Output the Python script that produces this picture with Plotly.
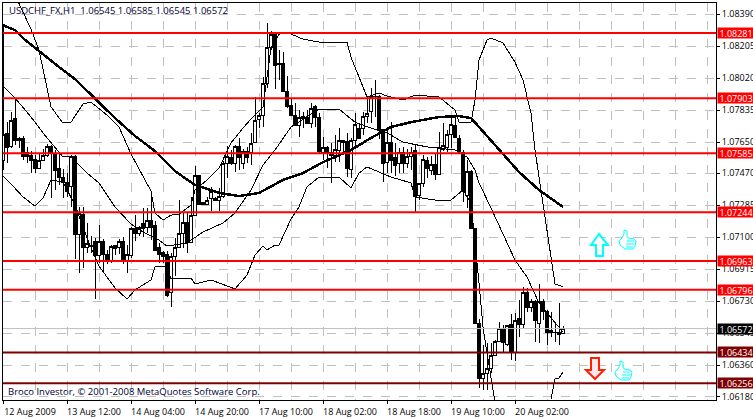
import plotly.graph_objects as go

# --- wykres swiecowy USDCHF H1, wartosci ---
bar_idx = list(range(141))

highs = [1.08326, 1.07765, 1.07824, 1.07905, 1.07680, 1.07685, 1.07622, 1.07598, 1.07575, 1.07587,
         1.07610, 1.07639, 1.07633, 1.07604, 1.07587, 1.07494, 1.07471, 1.07575, 1.07575, 1.07275,
         1.07275, 1.07182, 1.07107, 1.07096, 1.07170, 1.07090, 1.07026, 1.07055, 1.07055, 1.07090,
         1.07102, 1.07055, 1.07159, 1.07228, 1.07165, 1.07269, 1.07269, 1.07356, 1.07194, 1.07067,
         1.07020, 1.07020, 1.07009, 1.07096, 1.07315, 1.07246, 1.07246, 1.07333, 1.07511, 1.07459,
         1.07298, 1.07333, 1.07391, 1.07333, 1.07385, 1.07540, 1.07627, 1.07604, 1.07633, 1.07673,
         1.07610, 1.07622, 1.07703, 1.07911, 1.07818, 1.08026, 1.08338, 1.08291, 1.08285, 1.08182,
         1.08170, 1.08032, 1.07905, 1.07876, 1.07835, 1.07824, 1.07835, 1.07876, 1.07864, 1.07818,
         1.07679, 1.07627, 1.07645, 1.07691, 1.07731, 1.07662, 1.07703, 1.07673, 1.07818, 1.07760,
         1.07824, 1.07911, 1.07963, 1.08009, 1.07922, 1.07720, 1.07731, 1.07765, 1.07645, 1.07616,
         1.07622, 1.07610, 1.07622, 1.07633, 1.07414, 1.07575, 1.07564, 1.07569, 1.07587, 1.07708,
         1.07760, 1.07720, 1.07795, 1.07795, 1.07691, 1.07604, 1.07546, 1.07488, 1.07153, 1.06627,
         1.06477, 1.06489, 1.06489, 1.06506, 1.06610, 1.06593, 1.06593, 1.06656, 1.06662, 1.06737,
         1.06813, 1.06807, 1.06743, 1.06737, 1.06830, 1.06743, 1.06679, 1.06668, 1.06610, 1.06720,
         1.06585]

lows = [1.07488, 1.07529, 1.07616, 1.07633, 1.07616, 1.07546, 1.07529, 1.07471, 1.07471, 1.07494,
        1.07546, 1.07564, 1.07327, 1.07373, 1.07402, 1.07327, 1.07333, 1.07275, 1.06974, 1.06893,
        1.06922, 1.07009, 1.07009, 1.06743, 1.06951, 1.06893, 1.06945, 1.06951, 1.06997, 1.07003,
        1.06945, 1.06893, 1.06980, 1.07078, 1.07107, 1.07102, 1.07124, 1.07084, 1.07020, 1.06951,
        1.06951, 1.06754, 1.06696, 1.06876, 1.07038, 1.07038, 1.07009, 1.07067, 1.07228, 1.07286,
        1.07286, 1.07286, 1.07251, 1.07315, 1.07251, 1.07327, 1.07442, 1.07517, 1.07477, 1.07488,
        1.07494, 1.07529, 1.07517, 1.07645, 1.07731, 1.07737, 1.07963, 1.08182, 1.07957, 1.08009,
        1.07940, 1.07847, 1.07806, 1.07743, 1.07679, 1.07731, 1.07760, 1.07731, 1.07737, 1.07587,
        1.07546, 1.07500, 1.07414, 1.07534, 1.07534, 1.07592, 1.07448, 1.07442, 1.07616, 1.07668,
        1.07691, 1.07760, 1.07760, 1.07795, 1.07668, 1.07419, 1.07471, 1.07471, 1.07454, 1.07471,
        1.07471, 1.07500, 1.07488, 1.07246, 1.07315, 1.07391, 1.07442, 1.07459, 1.07431, 1.07459,
        1.07598, 1.07592, 1.07616, 1.07679, 1.07587, 1.07304, 1.07269, 1.07153, 1.06598, 1.06229,
        1.06217, 1.06217, 1.06315, 1.06413, 1.06494, 1.06431, 1.06471, 1.06390, 1.06384, 1.06523,
        1.06575, 1.06668, 1.06668, 1.06494, 1.06489, 1.06621, 1.06477, 1.06523, 1.06494, 1.06477,
        1.06545]

opens = [1.07546, 1.07697, 1.07622, 1.07789, 1.07668, 1.07668, 1.07587, 1.07575, 1.07552, 1.07500,
         1.07546, 1.07575, 1.07622, 1.07581, 1.07500, 1.07448, 1.07419, 1.07391, 1.07564, 1.07113,
         1.07234, 1.07043, 1.07055, 1.07078, 1.06997, 1.07078, 1.07003, 1.06968, 1.07055, 1.07038,
         1.07073, 1.06968, 1.06997, 1.07153, 1.07119, 1.07182, 1.07159, 1.07199, 1.07165, 1.07038,
         1.07009, 1.07003, 1.06778, 1.06986, 1.07043, 1.07119, 1.07188, 1.07067, 1.07228, 1.07459,
         1.07298, 1.07292, 1.07321, 1.07321, 1.07310, 1.07333, 1.07529, 1.07558, 1.07529, 1.07622,
         1.07529, 1.07598, 1.07587, 1.07645, 1.07783, 1.07806, 1.07986, 1.08194, 1.08274, 1.08107,
         1.08107, 1.07945, 1.07864, 1.07806, 1.07748, 1.07800, 1.07795, 1.07760, 1.07853, 1.07795,
         1.07592, 1.07616, 1.07587, 1.07575, 1.07604, 1.07662, 1.07656, 1.07494, 1.07662, 1.07731,
         1.07731, 1.07800, 1.07824, 1.07911, 1.07911, 1.07720, 1.07534, 1.07645, 1.07558, 1.07529,
         1.07592, 1.07529, 1.07564, 1.07604, 1.07344, 1.07408, 1.07546, 1.07488, 1.07523, 1.07465,
         1.07610, 1.07616, 1.07691, 1.07748, 1.07673, 1.07592, 1.07344, 1.07482, 1.07153, 1.06604,
         1.06281, 1.06315, 1.06344, 1.06419, 1.06500, 1.06570, 1.06477, 1.06593, 1.06431, 1.06633,
         1.06593, 1.06783, 1.06691, 1.06726, 1.06604, 1.06726, 1.06668, 1.06558, 1.06552, 1.06547,
         1.06545]

closes = [1.07691, 1.07616, 1.07777, 1.07662, 1.07662, 1.07564, 1.07564, 1.07546, 1.07500, 1.07546,
          1.07575, 1.07622, 1.07587, 1.07488, 1.07448, 1.07414, 1.07367, 1.07569, 1.07113, 1.07240,
          1.07043, 1.07061, 1.07049, 1.06997, 1.07078, 1.07003, 1.06962, 1.07049, 1.07032, 1.07073,
          1.06962, 1.07003, 1.07153, 1.07119, 1.07159, 1.07153, 1.07199, 1.07159, 1.07026, 1.07003,
          1.06991, 1.06766, 1.06991, 1.07043, 1.07119, 1.07188, 1.07067, 1.07228, 1.07459, 1.07292,
          1.07292, 1.07315, 1.07367, 1.07315, 1.07333, 1.07529, 1.07564, 1.07529, 1.07622, 1.07558,
          1.07598, 1.07558, 1.07639, 1.07777, 1.07806, 1.07986, 1.08194, 1.08274, 1.08095, 1.08101,
          1.07940, 1.07858, 1.07806, 1.07743, 1.07795, 1.07789, 1.07760, 1.07847, 1.07795, 1.07598,
          1.07616, 1.07587, 1.07575, 1.07610, 1.07662, 1.07650, 1.07500, 1.07662, 1.07754, 1.07668,
          1.07800, 1.07818, 1.07911, 1.07916, 1.07720, 1.07529, 1.07645, 1.07546, 1.07517, 1.07592,
          1.07529, 1.07569, 1.07592, 1.07333, 1.07408, 1.07552, 1.07500, 1.07523, 1.07465, 1.07616,
          1.07633, 1.07691, 1.07754, 1.07679, 1.07598, 1.07362, 1.07482, 1.07153, 1.06604, 1.06281,
          1.06315, 1.06344, 1.06419, 1.06500, 1.06570, 1.06489, 1.06587, 1.06431, 1.06621, 1.06593,
          1.06783, 1.06691, 1.06726, 1.06621, 1.06726, 1.06668, 1.06547, 1.06547, 1.06547, 1.06535,
          1.06572]

ma_idx = [0, 3, 5, 8, 14, 18, 22, 28, 33, 38, 43, 48, 54, 59, 64, 70, 75, 80, 87, 92, 97, 102, 109, 114,
          117, 122, 125, 129, 134, 140]
ma_val = [1.08326, 1.08297, 1.08251, 1.08194, 1.08084, 1.08014, 1.07922, 1.07789, 1.07685, 1.07598,
          1.07482, 1.07402, 1.07356, 1.07338, 1.07356, 1.07431, 1.07471, 1.07534, 1.07604, 1.07674,
          1.07737, 1.07765, 1.07795, 1.07800, 1.07789, 1.07662, 1.07581, 1.07477, 1.07373, 1.07275]

upper_idx = [3, 7, 9, 12, 15, 17, 20, 22, 26, 29, 32, 37, 38, 40, 42, 44, 45, 47, 48, 51, 54, 57, 60, 62,
             65, 67, 69, 71, 75, 79, 86, 87, 89, 91, 94, 96, 100, 103, 109, 113, 114, 117, 118, 119,
             121, 122, 125, 128, 130, 132, 133, 135, 136, 138, 140]
upper_val = [1.08500, 1.08303, 1.08182, 1.07853, 1.07760, 1.07765, 1.07870, 1.07881, 1.07806, 1.07737,
             1.07581, 1.07367, 1.07240, 1.07199, 1.07228, 1.07234, 1.07251, 1.07286, 1.07373, 1.07431,
             1.07500, 1.07645, 1.07731, 1.07783, 1.07853, 1.08194, 1.08274, 1.08285, 1.08245, 1.08228,
             1.08228, 1.08141, 1.08026, 1.07911, 1.07934, 1.07916, 1.07893, 1.07922, 1.07911, 1.07835,
             1.07765, 1.07765, 1.07893, 1.08124, 1.08240, 1.08251, 1.08223, 1.08112, 1.08009, 1.07818,
             1.07604, 1.07286, 1.07119, 1.06830, 1.06813]

middle_idx = [0, 3, 7, 10, 15, 17, 21, 24, 28, 32, 35, 39, 41, 46, 50, 55, 58, 62, 65, 68, 72, 79, 84,
              88, 92, 96, 100, 106, 113, 116, 118, 119, 122, 128, 131, 134, 136, 140]
middle_val = [1.07974, 1.07905, 1.07795, 1.07703, 1.07564, 1.07564, 1.07471, 1.07414, 1.07275, 1.07176,
              1.07130, 1.07084, 1.07049, 1.07067, 1.07130, 1.07182, 1.07240, 1.07373, 1.07517, 1.07604,
              1.07737, 1.07841, 1.07841, 1.07765, 1.07731, 1.07703, 1.07650, 1.07622, 1.07604, 1.07564,
              1.07488, 1.07414, 1.07269, 1.06968, 1.06870, 1.06720, 1.06662, 1.06552]

# dolna wstega wychodzi poza wykres miedzy slupkami 123 i 137
lower_idx = [0, 2, 5, 8, 10, 12, 15, 18, 21, 24, 28, 31, 33, 37, 38, 41, 42, 47, 48, 52, 58, 61, 63, 65,
             66, 68, 69, 72, 74, 76, 79, 84, 87, 89, 91, 97, 102, 103, 108, 112, 115, 117, 119, 120,
             121, 123, 130, 137, 138, 139, 140]
lower_val = [1.07453, 1.07408, 1.07333, 1.07280, 1.07327, 1.07431, 1.07419, 1.07286, 1.07096, 1.06933,
             1.06807, 1.06743, 1.06795, 1.06853, 1.06928, 1.06928, 1.06859, 1.06864, 1.06830, 1.06853,
             1.06801, 1.06881, 1.06997, 1.07049, 1.07026, 1.07055, 1.07055, 1.07205, 1.07275, 1.07391,
             1.07448, 1.07448, 1.07385, 1.07471, 1.07506, 1.07448, 1.07414, 1.07333, 1.07315, 1.07315,
             1.07373, 1.07298, 1.06836, 1.06581, 1.06431, 1.06148, None, 1.06165, 1.06281, 1.06286,
             1.06321]

levels = [1.08281, 1.07903, 1.07585, 1.07244, 1.06963, 1.06796, 1.06434, 1.06256]
level_colors = ["#ff0000"] * 6 + ["#800000"] * 2
last_price = 1.06572

price_ticks = [1.08390, 1.08205, 1.08020, 1.07835, 1.07650, 1.07470, 1.07285, 1.07100, 1.06915, 1.06730,
               1.06545, 1.06360, 1.06180]
time_ticks = [0, 16, 32, 48, 64, 80, 96, 112, 128]
time_labels = ["12 Aug 2009", "13 Aug 12:00", "14 Aug 04:00", "14 Aug 20:00", "17 Aug 10:00",
               "18 Aug 02:00", "18 Aug 18:00", "19 Aug 10:00", "20 Aug 02:00"]
# dodatkowe pionowe linie siatki (co 8 slupkow)
grid_extra = [8, 24, 40, 56, 72, 88, 104, 120, 136, 144, 152, 160, 168, 176]

W, H = 753, 417
L, R, T, B = 3, 37, 3, 17
FONT = "Open Sans"


def px(x, y):
    # piksele obrazka -> wspolrzedne paper
    return (x - L) / (W - L - R), 1 - (y - T) / (H - T - B)


def path(points, close=True):
    s = ""
    for n, (x, y) in enumerate(points):
        a, b = px(x, y)
        s += ("M" if n == 0 else "L") + f"{a:.5f},{b:.5f} "
    return s + ("Z" if close else "")


fig = go.Figure()

fig.add_trace(go.Candlestick(
    x=bar_idx, open=opens, high=highs, low=lows, close=closes,
    whiskerwidth=0, hoverinfo="skip",
    increasing=dict(line=dict(color="black", width=1), fillcolor="white"),
    decreasing=dict(line=dict(color="black", width=1), fillcolor="black"),
))

for xs, ys in [(upper_idx, upper_val), (middle_idx, middle_val), (lower_idx, lower_val)]:
    fig.add_trace(go.Scatter(x=xs, y=ys, mode="lines", hoverinfo="skip", line=dict(color="black", width=1)))
fig.add_trace(go.Scatter(x=ma_idx, y=ma_val, mode="lines", hoverinfo="skip", line=dict(color="black", width=2.5)))

shapes = []
annotations = []

# linia ceny bid
shapes.append(dict(type="line", xref="paper", x0=0, x1=1, yref="y", y0=last_price, y1=last_price,
                   line=dict(color="#c0c0c0", width=1)))

# poziomy + etykiety na osi cen
for lvl, col in zip(levels, level_colors):
    shapes.append(dict(type="line", xref="paper", x0=0, x1=1, yref="y", y0=lvl, y1=lvl,
                       line=dict(color=col, width=2)))
    annotations.append(dict(xref="paper", yref="y", x=px(717, 0)[0], y=lvl, xanchor="left", yanchor="middle",
                            text=f"{lvl:.5f}", showarrow=False, bgcolor=col, width=36, height=10, borderpad=0,
                            align="center", font=dict(family=FONT, size=9, color="white")))
annotations.append(dict(xref="paper", yref="y", x=px(717, 0)[0], y=last_price, xanchor="left", yanchor="middle",
                        text=f"{last_price:.5f}", showarrow=False, bgcolor="black", width=36, height=10,
                        borderpad=0, align="center", font=dict(family=FONT, size=9, color="white")))

# strzalki
shapes.append(dict(type="path", xref="paper", yref="paper", fillcolor="white", line=dict(color="#00ffff", width=2),
                   path=path([(599, 234), (591, 245), (596, 245), (596, 256), (603, 256), (603, 245), (608, 245)])))
shapes.append(dict(type="path", xref="paper", yref="paper", fillcolor="#ffe8f0", line=dict(color="#ff2000", width=2),
                   path=path([(595, 379), (586, 370), (591, 370), (591, 358), (599, 358), (599, 370), (604, 370)])))

# kciuki
hand = [(5, 0), (8, 1), (8, 6), (9, 8), (15, 9), (17, 11), (16, 16), (14, 19), (6, 19), (1, 15), (0, 11), (3, 8), (5, 4)]
fingers = [[(8, 11), (15, 11)], [(7, 14), (15, 14)], [(7, 17), (14, 17)]]
for ox, oy in [(619, 230), (615, 361)]:
    shapes.append(dict(type="path", xref="paper", yref="paper", fillcolor="white",
                       line=dict(color="#00ffff", width=1),
                       path=path([(ox + a, oy + b) for a, b in hand])))
    for f in fingers:
        shapes.append(dict(type="path", xref="paper", yref="paper", line=dict(color="#00ffff", width=1),
                           path=path([(ox + a, oy + b) for a, b in f], close=False)))

# napisy na wykresie
x0, y0 = px(7, 10)
annotations.append(dict(xref="paper", yref="paper", x=x0, y=y0, xanchor="left", yanchor="middle", showarrow=False,
                        text="USDCHF_FX,H1  1.06545 1.06585 1.06545 1.06572",
                        font=dict(family=FONT, size=9.5, color="#000033")))
x0, y0 = px(6, 391.5)
annotations.append(dict(xref="paper", yref="paper", x=x0, y=y0, xanchor="left", yanchor="middle", showarrow=False,
                        text="Broco Investor, © 2001-2008 MetaQuotes Software Corp.",
                        font=dict(family=FONT, size=9.5, color="#000033")))

fig.update_layout(
    width=W, height=H,
    margin=dict(l=L, r=R, t=T, b=B, autoexpand=False),
    paper_bgcolor="white", plot_bgcolor="white",
    showlegend=False, boxgap=0.25, hovermode=False,
    shapes=shapes, annotations=annotations,
    xaxis=dict(
        range=[0, 178.25], rangeslider=dict(visible=False),
        tickmode="array", tickvals=time_ticks, ticktext=time_labels,
        ticks="outside", ticklen=3, tickcolor="black", ticklabelshift=27,
        tickfont=dict(family=FONT, size=9, color="black"),
        showline=True, linecolor="black", linewidth=1, mirror=True,
        showgrid=True, gridcolor="#c0c0c0", griddash="dash", gridwidth=1, zeroline=False,
        minor=dict(tickmode="array", tickvals=grid_extra, showgrid=True, gridcolor="#c0c0c0",
                   griddash="dash", gridwidth=1, ticks=""),
    ),
    yaxis=dict(
        range=[1.06159, 1.08454], side="right",
        tickmode="array", tickvals=price_ticks, ticktext=[f"{p:.5f}" for p in price_ticks],
        ticks="outside", ticklen=3, tickcolor="black",
        tickfont=dict(family=FONT, size=9, color="black"),
        showline=True, linecolor="black", linewidth=1, mirror=True,
        showgrid=True, gridcolor="#c0c0c0", griddash="dash", gridwidth=1, zeroline=False,
    ),
)

# strona bez marginesu, zeby wykres siedzial w rogu okna; linie ostre jak w MT4
post = """
document.body.style.margin='0';document.body.style.overflow='hidden';
document.querySelectorAll('.scatterlayer path, .boxlayer path').forEach(function(p){
  p.style.shapeRendering='crispEdges';
});
"""
fig.write_html("out.html", post_script=post, config={"displayModeBar": False})
